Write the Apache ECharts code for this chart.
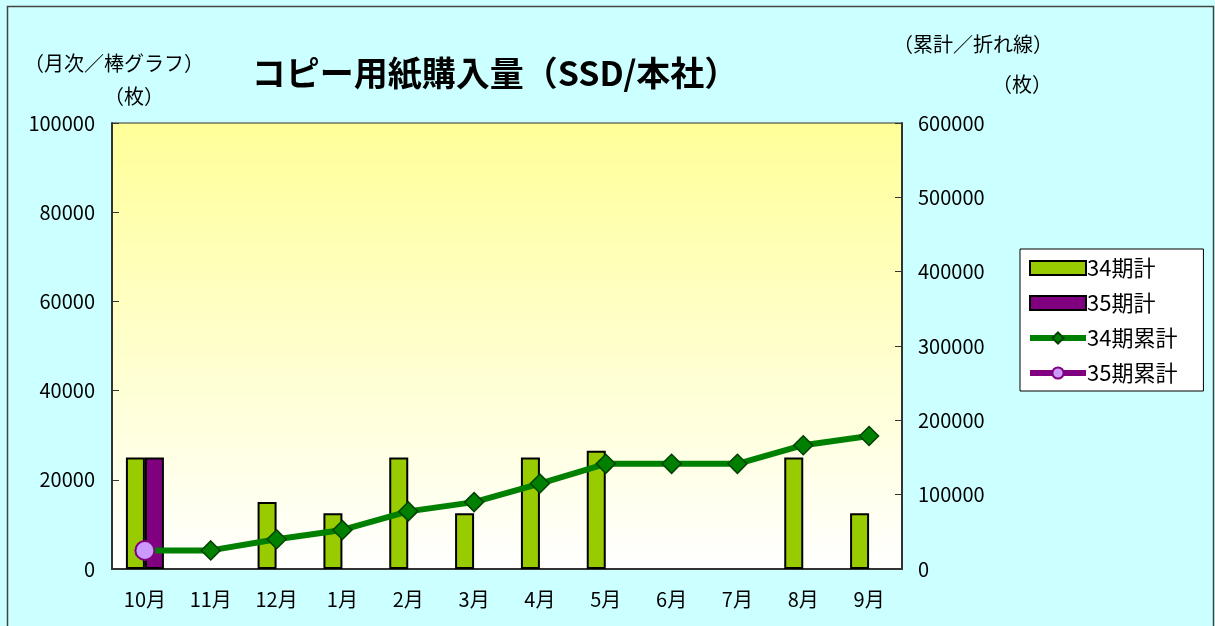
<!DOCTYPE html>
<html lang="ja">
<head>
    <meta charset="UTF-8">
    <title>コピー用紙購入量</title>
    <script src="https://cdn.jsdelivr.net/npm/echarts@6/dist/echarts.min.js"></script>
    <style>
        html, body { margin: 0; padding: 0; background: #CCFFFF; }
        #chart { width: 1215px; height: 626px; }
    </style>
</head>
<body>
<div id="chart"></div>
<script>
    // months (x axis)
    const months = ['10月', '11月', '12月', '1月', '2月', '3月', '4月', '5月', '6月', '7月', '8月', '9月'];
    // monthly purchases (bars, left axis) - empty months left blank
    const monthly34 = [25000, null, 15000, 12500, 25000, 12500, 25000, 26500, null, null, 25000, 12500];
    const monthly35 = [25000, null, null, null, null, null, null, null, null, null, null, null];
    // cumulative (lines, right axis)
    const cumulative34 = [25000, 25000, 40000, 52500, 77500, 90000, 115000, 141500, 141500, 141500, 166500, 179000];
    const cumulative35 = [25000, null, null, null, null, null, null, null, null, null, null, null];

    const font = '"Noto Sans CJK JP", sans-serif';
    const chart = echarts.init(document.getElementById('chart'));

    chart.setOption({
        backgroundColor: '#CCFFFF',
        animation: false,
        textStyle: { fontFamily: font, color: '#000' },
        title: {
            text: 'コピー用紙購入量（SSD/本社）',
            left: 490, top: 51,
            textAlign: 'center',
            textStyle: { fontSize: 34, fontWeight: 'bold', fontFamily: font, color: '#000' }
        },
        graphic: [
            { type: 'rect', left: 5, top: 4, shape: { width: 1206, height: 640 },
              style: { fill: 'none', stroke: '#444', lineWidth: 1.5 }, silent: true },
            { type: 'text', left: 24, top: 53, style: { text: '（月次／棒グラフ）', font: '20px ' + font, fill: '#000' } },
            { type: 'text', left: 104, top: 86, style: { text: '（枚）', font: '20px ' + font, fill: '#000' } },
            { type: 'text', left: 893, top: 34, style: { text: '（累計／折れ線）', font: '20px ' + font, fill: '#000' } },
            { type: 'text', left: 992, top: 74, style: { text: '（枚）', font: '20px ' + font, fill: '#000' } }
        ],
        legend: {
            orient: 'vertical',
            left: 1020, top: 249,
            padding: [8, 26, 7, 7],
            backgroundColor: '#fff',
            borderColor: '#000',
            borderWidth: 1,
            itemWidth: 56,
            itemHeight: 14,
            itemGap: 13,
            textStyle: { fontSize: 22, fontFamily: font, color: '#000', padding: [0, 0, 0, -4] },
            data: [
                { name: '34期計', icon: 'rect' },
                { name: '35期計', icon: 'rect' },
                { name: '34期累計', lineStyle: { width: 6 } },
                { name: '35期累計', lineStyle: { width: 6 } }
            ]
        },
        grid: {
            left: 112, right: 313, top: 123, bottom: 57,
            show: true,
            borderColor: '#333',
            borderWidth: 1,
            backgroundColor: new echarts.graphic.LinearGradient(0, 0, 0, 1, [
                { offset: 0, color: '#FFFF99' },
                { offset: 1, color: '#FFFFFF' }
            ])
        },
        xAxis: {
            type: 'category',
            data: months,
            axisLine: { lineStyle: { color: '#333', width: 2 } },
            axisTick: { inside: true, length: 7, lineStyle: { color: '#333' } },
            axisLabel: { fontSize: 20, color: '#000', margin: 20 }
        },
        yAxis: [
            {
                type: 'value', min: 0, max: 100000, interval: 20000,
                splitLine: { show: false },
                axisLine: { show: true, lineStyle: { color: '#333', width: 2 } },
                axisTick: { show: true, inside: true, length: 7, lineStyle: { color: '#333' } },
                axisLabel: { fontSize: 20, color: '#000', margin: 17, formatter: v => String(v) }
            },
            {
                type: 'value', min: 0, max: 600000, interval: 100000,
                splitLine: { show: false },
                axisLine: { show: true, lineStyle: { color: '#333', width: 2 } },
                axisTick: { show: true, inside: true, length: 7, lineStyle: { color: '#333' } },
                axisLabel: { fontSize: 20, color: '#000', margin: 16, formatter: v => String(v) }
            }
        ],
        series: [
            {
                name: '34期計', type: 'bar', data: monthly34,
                barWidth: 19, barGap: '0%',
                itemStyle: { color: '#99CC00', borderColor: '#000', borderWidth: 2 }
            },
            {
                name: '35期計', type: 'bar', data: monthly35,
                barWidth: 19, barGap: '0%',
                itemStyle: { color: '#800080', borderColor: '#000', borderWidth: 2 }
            },
            {
                name: '34期累計', type: 'line', yAxisIndex: 1, data: cumulative34,
                symbol: 'diamond', symbolSize: 19,
                lineStyle: { color: '#008000', width: 6 },
                itemStyle: { color: '#008000', borderColor: '#004000', borderWidth: 1.5 },
                z: 5
            },
            {
                name: '35期累計', type: 'line', yAxisIndex: 1, data: cumulative35,
                symbol: 'circle', symbolSize: 19,
                lineStyle: { color: '#800080', width: 6 },
                itemStyle: { color: '#CC99FF', borderColor: '#800080', borderWidth: 2 },
                z: 6
            }
        ]
    });
</script>
</body>
</html>
